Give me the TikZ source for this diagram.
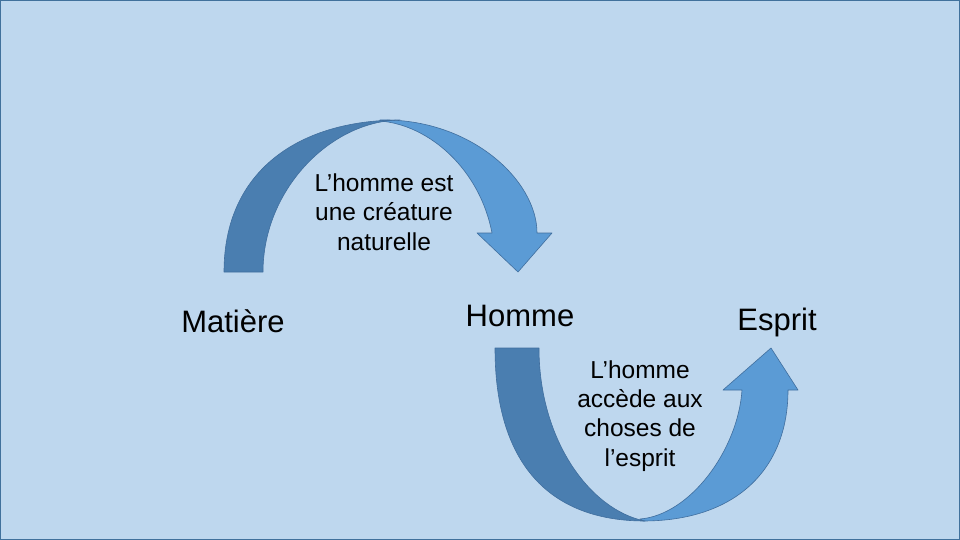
\documentclass[tikz,border=0pt]{standalone}
\usepackage{fontspec}
\setmainfont{Liberation Sans}
\definecolor{bgblue}{RGB}{190,215,238}
\definecolor{frameblue}{RGB}{65,113,156}
\definecolor{darkband}{RGB}{74,126,176}
\definecolor{lightband}{RGB}{91,155,213}
\definecolor{bandedge}{RGB}{64,110,158}
\tikzset{
  bigtxt/.style={font=\fontsize{31}{37}\selectfont, inner sep=0pt, anchor=base, text=black},
  smalltxt/.style={font=\fontsize{24.5}{29.2}\selectfont, inner sep=0pt, anchor=base, align=center, text=black},
  darkpart/.style={fill=darkband, draw=bandedge, line width=0.6pt, line join=round},
  lightpart/.style={fill=lightband, draw=bandedge, line width=0.6pt, line join=round},
}
\begin{document}
\begin{tikzpicture}[x=1pt,y=-1pt]
\useasboundingbox (0,0) rectangle (960,540);
\fill[bgblue] (0,0) rectangle (960,540);
\draw[frameblue, line width=1pt] (0.5,0.5) rectangle (959.5,539.5);

% top curved arrow: light part (with head)
\path[lightpart] (380,120) .. controls (470,118) and (537,180) .. (537,233)
  -- (552,233) -- (518,272) -- (477,233) -- (492,233)
  .. controls (480,170) and (430,125) .. (380,121) -- cycle;
% top curved arrow: dark part (back)
\path[darkpart] (224,272) .. controls (224,170) and (300,120) .. (400,120)
  .. controls (330,121) and (263,190) .. (263,272) -- cycle;

% bottom curved arrow: light part (with head)
\path[lightpart] (643,521) .. controls (735,521) and (788,470) .. (788,390)
  -- (798,390) -- (771,348) -- (723,390) -- (742,390)
  .. controls (738,450) and (690,515) .. (640,519) -- cycle;
% bottom curved arrow: dark part
\path[darkpart] (495,348) .. controls (495,470) and (555,521) .. (645,521)
  .. controls (590,510) and (539,440) .. (539,348) -- cycle;

% labels
\node[bigtxt] (matiere) at (233,332) {Matière};
\node[bigtxt] (homme) at (520,326) {Homme};
\node[bigtxt] (esprit) at (777,330) {Esprit};
\node[smalltxt] (t1) at (384,250) {L’homme est\\une créature\\naturelle};
\node[smalltxt] (t2) at (640,466) {L’homme\\accède aux\\choses de\\l’esprit};
\end{tikzpicture}
\end{document}
